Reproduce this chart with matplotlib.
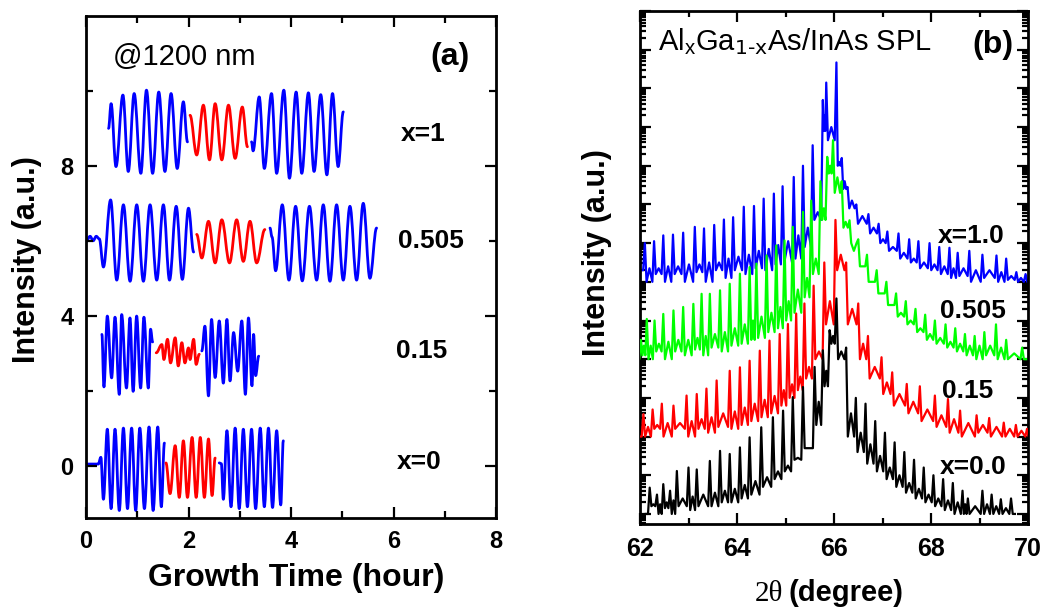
import numpy as np
import matplotlib.pyplot as plt
from matplotlib.path import Path
from matplotlib.patches import PathPatch
from matplotlib.ticker import MultipleLocator, FixedLocator, LogLocator, NullFormatter

plt.rcParams['font.family'] = ['Liberation Sans', 'DejaVu Sans']
plt.rcParams['mathtext.default'] = 'regular'

# ---------------- panel (a): growth oscillations (extrema)
# row x=1
x1_b1_t = [0.44, 0.49, 0.585, 0.72, 0.825, 0.94, 1.07, 1.18, 1.30, 1.42, 1.54, 1.66, 1.78, 1.90, 1.98]
x1_b1_v = [9.00, 9.66, 7.98, 9.89, 7.85, 9.93, 7.80, 10.02, 7.80, 9.97, 7.85, 9.93, 7.93, 9.71, 8.64]
x1_r_t = [2.03, 2.16, 2.29, 2.41, 2.52, 2.65, 2.78, 2.91, 3.05, 3.15]
x1_r_v = [9.35, 8.29, 9.62, 8.16, 9.66, 8.16, 9.62, 8.20, 9.57, 8.51]
x1_b2_t = [3.23, 3.26, 3.38, 3.48, 3.62, 3.72, 3.86, 3.97, 4.10, 4.21, 4.34, 4.45, 4.58, 4.70, 4.81, 4.92, 5.02]
x1_b2_v = [8.64, 8.40, 9.84, 7.93, 9.93, 7.80, 10.02, 7.67, 9.97, 7.80, 9.95, 7.85, 9.90, 7.76, 9.93, 7.98, 9.44]

# row 0.505
x505_b1_t = [0.0, 0.08, 0.14, 0.20, 0.26, 0.34, 0.48, 0.60, 0.73, 0.86, 0.99, 1.12, 1.25, 1.38,
             1.51, 1.63, 1.76, 1.88, 2.00, 2.10]
x505_b1_v = [5.98, 6.12, 6.00, 6.12, 6.05, 5.30, 7.09, 4.95, 6.96, 4.92, 6.96, 4.92, 6.96, 4.95,
             6.96, 4.95, 6.92, 4.97, 6.87, 5.70]
x505_r_t = [2.16, 2.26, 2.39, 2.52, 2.65, 2.80, 2.94, 3.07, 3.20, 3.33, 3.49]
x505_r_v = [6.17, 5.54, 6.52, 5.41, 6.56, 5.41, 6.56, 5.45, 6.52, 5.41, 6.30]
x505_b2_t = [3.59, 3.63, 3.70, 3.83, 3.96, 4.09, 4.22, 4.36, 4.50, 4.63, 4.76, 4.89, 5.02, 5.15,
             5.28, 5.41, 5.54, 5.67]
x505_b2_v = [6.34, 6.10, 5.20, 6.96, 4.95, 6.92, 4.93, 6.92, 4.95, 6.96, 4.92, 6.96, 4.95, 6.92,
             4.95, 7.00, 5.00, 6.34]

# row 0.15
x15_b1_t = [0.31, 0.35, 0.416, 0.50, 0.566, 0.65, 0.696, 0.79, 0.858, 0.92, 0.988, 1.066, 1.13,
            1.216, 1.26, 1.30]
x15_b1_v = [3.50, 2.10, 3.99, 2.34, 3.96, 1.90, 4.03, 2.07, 3.94, 1.98, 3.99, 2.07, 3.96,
            2.07, 3.64, 3.30]
x15_r_t = [1.37, 1.48, 1.52, 1.59, 1.65, 1.74, 1.80, 1.87, 1.93, 2.00, 2.03, 2.10, 2.15, 2.21]
x15_r_v = [3.01, 3.23, 2.83, 3.37, 2.74, 3.41, 2.66, 3.28, 2.74, 3.14, 2.83, 3.37, 2.70, 2.97]
x15_b2_t = [2.26, 2.32, 2.39, 2.45, 2.52, 2.60, 2.68, 2.75, 2.81, 2.88, 2.96, 3.04, 3.11, 3.17,
            3.24, 3.27, 3.31, 3.37]
x15_b2_v = [3.06, 3.72, 1.86, 3.90, 2.35, 3.86, 2.20, 3.90, 2.26, 3.55, 2.52, 3.86, 1.90, 3.94,
            2.13, 3.50, 2.40, 2.92]

# row x=0
x0_b1_t = [0.0, 0.24, 0.29, 0.34, 0.416, 0.49, 0.566, 0.65, 0.73, 0.81, 0.89, 0.97, 1.05, 1.14,
           1.23, 1.31, 1.40, 1.47, 1.53]
x0_b1_v = [0.04, 0.04, 0.22, -0.90, 0.97, -1.15, 0.97, -1.20, 1.00, -1.15, 1.00, -1.20, 1.00, -1.15,
           1.03, -1.20, 1.03, -1.10, 0.60]
x0_r_t = [1.56, 1.64, 1.74, 1.82, 1.90, 1.98, 2.07, 2.15, 2.23, 2.31, 2.39, 2.46, 2.52]
x0_r_v = [0.07, -0.75, 0.53, -0.85, 0.66, -0.85, 0.75, -0.85, 0.75, -0.85, 0.71, -0.80, 0.20]
x0_b2_t = [2.60, 2.64, 2.68, 2.75, 2.83, 2.91, 2.99, 3.07, 3.15, 3.23, 3.31, 3.40, 3.48, 3.56,
           3.64, 3.72, 3.80, 3.85]
x0_b2_v = [0.07, 0.05, -0.90, 0.93, -1.10, 1.00, -1.15, 0.97, -1.10, 0.97, -1.15, 1.00, -1.10, 1.00,
           -1.12, 0.93, -1.05, 0.66]

row_labels_a = ["x=1", "0.505", "0.15", "x=0"]

# ---------------- panel (b): XRD satellite peaks, in decades above each curve's floor
# pk = main satellites, vl = minima (one before, between and after), sub = small side peaks
pos_blue = [62.10, 62.29, 62.48, 62.68, 62.89, 63.13, 63.32, 63.53, 63.73, 63.92,
            64.14, 64.35, 64.55, 64.76, 64.94, 65.17, 65.36, 65.56, 65.77, 65.84,
            66.05, 66.16, 66.28, 66.46, 66.71, 66.92, 67.10, 67.33, 67.55, 67.74,
            67.97, 68.17, 68.38, 68.55, 68.79, 69.06, 69.35, 69.55, 69.76, 69.95]
pk_blue = [1.00, 1.05, 1.20, 1.22, 1.27, 1.42, 1.38, 1.47, 1.61, 1.67,
           1.94, 1.96, 2.15, 2.28, 2.47, 2.71, 3.00, 3.53, 4.70, 5.15,
           5.67, 3.20, 2.45, 2.00, 1.75, 1.50, 1.30, 1.25, 1.10, 1.05,
           1.00, 0.90, 0.88, 0.75, 0.80, 0.70, 0.68, 0.60, 0.25, 0.20]
vl_blue = [0.30, 0.00, 0.20, 0.00, 0.20, 0.00, 0.25, 0.00, 0.30, 0.10,
           0.30, 0.20, 0.35, 0.30, 0.45, 0.50, 0.60, 0.90, 1.60, 3.90,
           3.66, 3.00, 2.40, 1.90, 1.50, 1.25, 1.00, 0.80, 0.60, 0.50,
           0.35, 0.30, 0.20, 0.10, 0.15, 0.00, 0.10, 0.00, 0.05, 0.00, 0.00]
sub_blue = [0.35, 0.35, 0.40, 0.40, 0.45, 0.45, 0.50, 0.50, 0.60, 0.65,
            0.70, 0.80, 0.85, 0.95, 1.05, 1.20, 1.40, 1.80, 4.30, 4.00,
            3.10, 2.60, 2.10, 1.70, 1.40, 1.10, 0.90, 0.75, 0.60, 0.50,
            0.45, 0.40, 0.35, 0.35, 0.30, 0.30, 0.25, 0.15, 0.10]

pos_green = [62.02, 62.14, 62.30, 62.48, 62.69, 62.89, 63.10, 63.27, 63.44, 63.65,
             63.85, 64.06, 64.26, 64.40, 64.61, 64.81, 64.98, 65.15, 65.36, 65.53,
             65.72, 65.86, 65.98, 66.16, 66.32, 66.50, 66.68, 66.88, 67.08, 67.28,
             67.48, 67.68, 67.88, 68.08, 68.30, 68.50, 68.70, 68.90, 69.10, 69.34,
             69.55, 69.88]
pk_green = [0.50, 1.04, 1.00, 1.17, 1.26, 1.35, 1.43, 1.69, 1.69, 1.78,
            1.95, 2.21, 2.38, 2.47, 2.68, 2.94, 3.07, 3.42, 3.81, 4.10,
            4.60, 5.23, 5.66, 4.60, 3.59, 3.10, 2.70, 2.30, 2.00, 1.70,
            1.50, 1.30, 1.15, 1.00, 0.90, 0.80, 0.65, 0.60, 0.70, 0.90,
            0.50, 0.30]
vl_green = [0.00, 0.10, 0.00, 0.20, 0.00, 0.20, 0.10, 0.25, 0.10, 0.30,
            0.20, 0.35, 0.40, 0.50, 0.55, 0.70, 0.80, 1.00, 1.20, 1.60,
            2.20, 3.60, 4.80, 4.30, 3.40, 3.00, 2.40, 2.00, 1.70, 1.40,
            1.10, 0.90, 0.70, 0.50, 0.40, 0.30, 0.20, 0.10, 0.00, 0.10,
            0.00, 0.00, 0.00]
sub_green = [0.35, 0.35, 0.40, 0.45, 0.50, 0.50, 0.55, 0.60, 0.65, 0.70,
             0.80, 0.90, 1.00, 1.10, 1.20, 1.35, 1.50, 1.80, 2.10, 2.60,
             3.90, 5.00, 4.70, 3.55, 2.80, 2.40, 2.00, 1.70, 1.40, 1.20,
             1.00, 0.80, 0.65, 0.55, 0.45, 0.40, 0.35, 0.35, 0.35, 0.30,
             0.15]

pos_red = [62.07, 62.26, 62.45, 62.69, 62.96, 63.17, 63.37, 63.58, 63.85, 64.06,
           64.26, 64.47, 64.67, 64.88, 65.05, 65.22, 65.39, 65.58, 65.80, 66.03,
           66.25, 66.50, 66.70, 66.98, 67.20, 67.50, 67.77, 68.08, 68.35, 68.60,
           68.94, 69.20, 69.50, 69.75, 69.98]
pk_red = [0.58, 0.70, 0.85, 0.80, 1.06, 1.10, 1.24, 1.45, 1.70, 1.79,
          1.96, 2.22, 2.48, 2.65, 2.91, 3.18, 3.44, 3.90, 4.50, 5.60,
          4.50, 3.44, 2.60, 2.05, 1.66, 1.36, 1.30, 1.06, 0.97, 0.67,
          0.55, 0.48, 0.36, 0.30, 0.20]
vl_red = [0.00, 0.00, 0.20, 0.00, 0.20, 0.00, 0.20, 0.10, 0.25, 0.20,
          0.30, 0.40, 0.50, 0.60, 0.80, 1.00, 1.20, 1.50, 2.00, 2.90,
          4.30, 2.90, 2.00, 1.50, 1.10, 0.80, 0.60, 0.40, 0.25, 0.10,
          0.00, 0.10, 0.00, 0.00, 0.00, 0.00]
sub_red = [0.25, 0.30, 0.35, 0.35, 0.40, 0.45, 0.50, 0.60, 0.65, 0.75,
           0.85, 0.95, 1.05, 1.20, 1.35, 1.55, 1.80, 2.20, 3.50, 4.70,
           3.30, 2.40, 1.80, 1.40, 1.10, 0.90, 0.70, 0.55, 0.45, 0.35,
           0.30, 0.25, 0.20, 0.15]

pos_black = [62.20, 62.35, 62.48, 62.62, 62.76, 63.00, 63.17, 63.44, 63.65, 63.85,
             64.06, 64.26, 64.50, 64.74, 64.95, 65.15, 65.36, 65.60, 65.77, 65.91,
             66.05, 66.25, 66.45, 66.65, 66.85, 67.05, 67.25, 67.45, 67.65, 67.85,
             68.05, 68.25, 68.45, 68.65, 68.76, 69.06, 69.25, 69.44, 69.65]
pk_black = [0.68, 0.50, 0.77, 0.60, 1.11, 1.20, 1.15, 1.37, 1.63, 1.55,
            1.72, 1.98, 2.24, 2.50, 2.67, 3.02, 3.28, 3.80, 4.23, 4.75,
            5.57, 4.30, 3.00, 2.85, 2.40, 2.10, 1.85, 1.60, 1.40, 1.20,
            1.00, 0.90, 0.80, 0.60, 0.40, 0.60, 0.50, 0.38, 0.40]
vl_black = [0.00, 0.20, 0.00, 0.15, 0.00, 0.20, 0.10, 0.20, 0.20, 0.30,
            0.30, 0.40, 0.50, 0.70, 0.90, 1.10, 1.40, 1.70, 2.30, 3.30,
            4.40, 4.00, 2.00, 1.60, 1.30, 1.10, 0.90, 0.70, 0.55, 0.40,
            0.30, 0.20, 0.10, 0.00, 0.00, 0.00, 0.00, 0.00, 0.00, 0.00]
sub_black = [0.25, 0.25, 0.30, 0.35, 0.40, 0.45, 0.50, 0.55, 0.60, 0.65,
             0.75, 0.85, 0.95, 1.10, 1.25, 1.45, 1.70, 2.90, 3.70, 4.60,
             4.20, 2.60, 2.10, 1.80, 1.50, 1.20, 1.00, 0.80, 0.65, 0.50,
             0.40, 0.35, 0.30, 0.25, 0.20, 0.25, 0.20, 0.15]

floor_decade = {"blue": 6, "#00ff00": 4, "red": 2, "black": 0}
row_labels_b = ["x=1.0", "0.505", "0.15", "x=0.0"]

W, H = 1048, 608
fig = plt.figure(figsize=(W / 100, H / 100), dpi=100)


def px_axes(left, top, right, bottom):
    return fig.add_axes([left / W, 1 - bottom / H, (right - left) / W, (bottom - top) / H])


def fig_text(x, y, s, **kw):
    return fig.text(x / W, 1 - y / H, s, **kw)


def wave_patch(t, v, color):
    # smooth curve through the extrema, flat tangent at each one
    verts, codes = [(t[0], v[0])], [Path.MOVETO]
    for i in range(1, len(t)):
        dt = t[i] - t[i - 1]
        verts += [(t[i - 1] + 0.37 * dt, v[i - 1]), (t[i] - 0.37 * dt, v[i]), (t[i], v[i])]
        codes += [Path.CURVE4] * 3
    return PathPatch(Path(verts, codes), facecolor="none", edgecolor=color, lw=2.0,
                     joinstyle="round", capstyle="round")


def spike_path(pos, peak, valley, sub):
    # narrow spikes at the satellite positions, a small side peak in each gap
    xs, ys = [pos[0] - 0.08, pos[0] - 0.035], [valley[0], valley[0]]
    for i, p in enumerate(pos):
        xs.append(p)
        ys.append(peak[i])
        if i < len(pos) - 1:
            q = pos[i + 1]
            h = min(0.035, (q - p) / 4)
            xs += [p + h, (p + q) / 2, q - h]
            ys += [valley[i + 1], sub[i], valley[i + 1]]
    xs += [pos[-1] + 0.035, pos[-1] + 0.08]
    ys += [valley[-1], valley[-1]]
    return np.array(xs), np.array(ys)


def style_spines(ax):
    for sp in ax.spines.values():
        sp.set_linewidth(2.0)


# ---- panel (a)
axa = px_axes(86, 16, 496, 518)
segments = [
    (x1_b1_t, x1_b1_v, "blue"), (x1_r_t, x1_r_v, "red"), (x1_b2_t, x1_b2_v, "blue"),
    (x505_b1_t, x505_b1_v, "blue"), (x505_r_t, x505_r_v, "red"), (x505_b2_t, x505_b2_v, "blue"),
    (x15_b1_t, x15_b1_v, "blue"), (x15_r_t, x15_r_v, "red"), (x15_b2_t, x15_b2_v, "blue"),
    (x0_b1_t, x0_b1_v, "blue"), (x0_r_t, x0_r_v, "red"), (x0_b2_t, x0_b2_v, "blue"),
]
for t, v, c in segments:
    axa.add_patch(wave_patch(t, v, c))

axa.set_xlim(0, 8)
axa.set_ylim(-1.4, 12)
axa.xaxis.set_major_locator(MultipleLocator(2))
axa.xaxis.set_minor_locator(MultipleLocator(1))
axa.yaxis.set_major_locator(FixedLocator([0, 4, 8]))
axa.yaxis.set_minor_locator(FixedLocator([2, 6, 10]))
axa.tick_params(which="both", direction="in", top=True, right=True, width=1.6)
axa.tick_params(which="major", length=8, labelsize=17, pad=9)
axa.tick_params(which="minor", length=5)
for lab in axa.get_xticklabels() + axa.get_yticklabels():
    lab.set_fontweight("bold")
style_spines(axa)

axa.text(0.066, 0.918, "@1200 nm", transform=axa.transAxes, fontsize=21, va="center", ha="left")
axa.text(0.888, 0.918, "(a)", transform=axa.transAxes, fontsize=23, fontweight="bold",
         va="center", ha="center")
for lab, (lx, ly) in zip(row_labels_a, [(423, 134), (431, 241), (422, 351), (419, 462)]):
    fig_text(lx, ly, lab, fontsize=19, fontweight="bold", ha="center", va="center")

fig_text(296, 586, "Growth Time (hour)", fontsize=23, fontweight="bold", ha="center", va="baseline")
fig_text(27, 260, "Intensity (a.u.)", fontsize=22, fontweight="bold", rotation=90,
         ha="center", va="center")

# ---- panel (b)
axb = px_axes(640, 11, 1028, 524)
curves = [
    (pos_blue, pk_blue, vl_blue, sub_blue, "blue"),
    (pos_green, pk_green, vl_green, sub_green, "#00ff00"),
    (pos_red, pk_red, vl_red, sub_red, "red"),
    (pos_black, pk_black, vl_black, sub_black, "black"),
]
for z, (pos, pk, vl, sb, c) in enumerate(curves):
    xs, ys = spike_path(pos, pk, vl, sb)
    axb.plot(xs, 10 ** (floor_decade[c] + ys), color=c, lw=1.6, zorder=2 + z)

axb.set_yscale("log")
axb.set_xlim(62, 70)
axb.set_ylim(10 ** -0.26, 1e13)
axb.xaxis.set_major_locator(MultipleLocator(2))
axb.xaxis.set_minor_locator(MultipleLocator(1))
axb.yaxis.set_major_locator(LogLocator(base=10, numticks=100))
axb.yaxis.set_minor_locator(LogLocator(base=10, subs=np.arange(2, 10) * 1.0, numticks=100))
axb.yaxis.set_major_formatter(NullFormatter())
axb.yaxis.set_minor_formatter(NullFormatter())
axb.tick_params(which="both", direction="in", top=True, right=True, width=1.6)
axb.tick_params(which="major", length=8, labelsize=18, pad=9)
axb.tick_params(which="minor", length=4)
for lab in axb.get_xticklabels():
    lab.set_fontweight("bold")
style_spines(axb)

axb.text(0.046, 0.924, r"Al$_{x}$Ga$_{\text{1-x}}$As/InAs SPL", transform=axb.transAxes,
         fontsize=21, va="baseline", ha="left")
axb.text(0.91, 0.934, "(b)", transform=axb.transAxes, fontsize=23, fontweight="bold",
         va="center", ha="center")
for lab, (lx, ly) in zip(row_labels_b, [(938, 236), (940, 311), (942, 391), (940, 467)]):
    fig_text(lx, ly, lab, fontsize=19, fontweight="bold", ha="left", va="center")

fig_text(783, 601, "2θ", fontsize=21, family=["Liberation Serif", "DejaVu Serif"],
         ha="right", va="baseline")
fig_text(789, 601, "(degree)", fontsize=21, fontweight="bold", ha="left", va="baseline")
fig_text(597, 253, "Intensity (a.u.)", fontsize=22, fontweight="bold", rotation=90,
         ha="center", va="center")

fig.savefig("out.png", dpi=100)
